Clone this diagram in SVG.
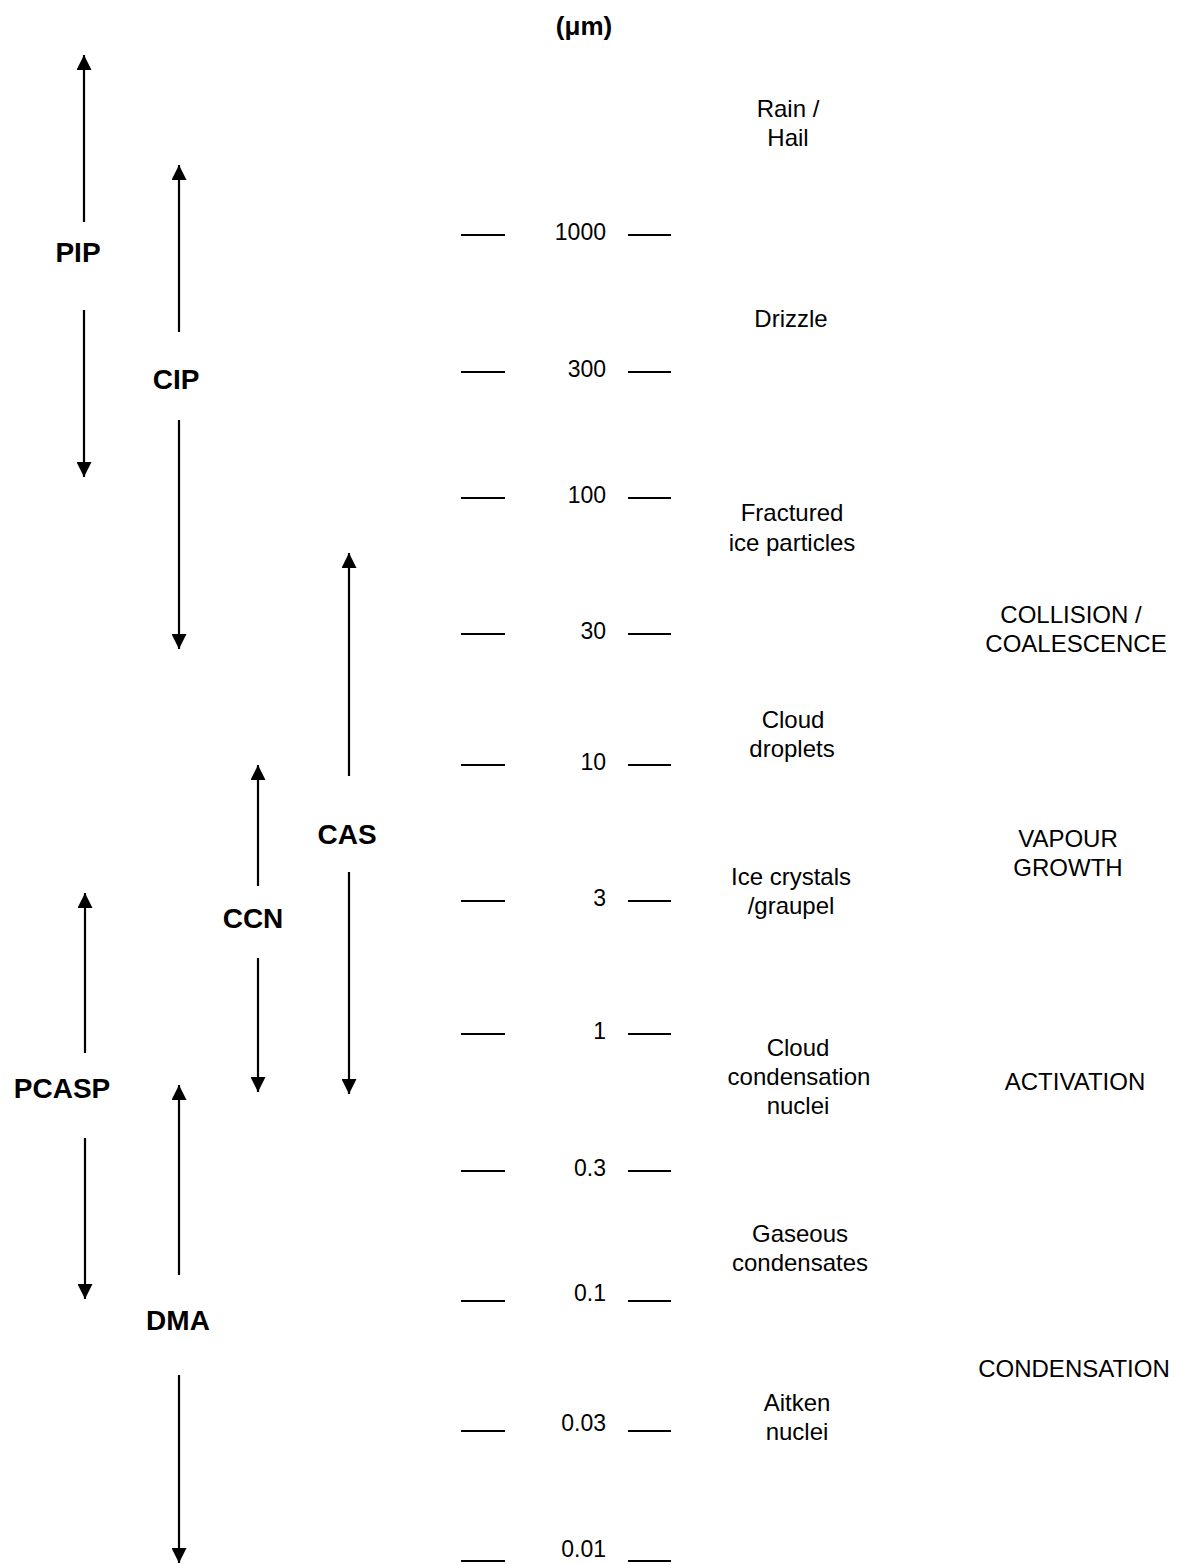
<svg xmlns="http://www.w3.org/2000/svg" width="1179" height="1564" viewBox="0 0 1179 1564">
<style>
.bg{fill:#fff}
.ax line{stroke:#000;stroke-width:2}
.arr line{stroke:#000;stroke-width:2.2;marker-end:url(#ah)}
.inst{font-family:"Liberation Sans",Arial,sans-serif;font-weight:bold;font-size:28px;text-anchor:middle;fill:#000}
.num{font-family:"Liberation Sans",Arial,sans-serif;font-size:23px;text-anchor:end;fill:#000}
.lab{font-family:"Liberation Sans",Arial,sans-serif;font-size:24px;text-anchor:middle;fill:#000}
.unit{font-family:"Liberation Sans",Arial,sans-serif;font-size:26px;font-weight:bold;text-anchor:middle;fill:#000}
</style>
<defs>
<marker id="ah" markerUnits="userSpaceOnUse" markerWidth="15" markerHeight="15" refX="15" refY="7.5" orient="auto" viewBox="0 0 15 15">
<path d="M0,0 L15,7.5 L0,15 z" fill="#000"/>
</marker>
</defs>
<rect class="bg" x="0" y="0" width="1179" height="1564"/>
<text class="unit" x="584" y="35">(μm)</text>
<g id="scale" class="ax">
<line x1="461" y1="235" x2="505" y2="235"/><line x1="628" y1="235" x2="671" y2="235"/>
<line x1="461" y1="372" x2="505" y2="372"/><line x1="628" y1="372" x2="671" y2="372"/>
<line x1="461" y1="498" x2="505" y2="498"/><line x1="628" y1="498" x2="671" y2="498"/>
<line x1="461" y1="634" x2="505" y2="634"/><line x1="628" y1="634" x2="671" y2="634"/>
<line x1="461" y1="765" x2="505" y2="765"/><line x1="628" y1="765" x2="671" y2="765"/>
<line x1="461" y1="901" x2="505" y2="901"/><line x1="628" y1="901" x2="671" y2="901"/>
<line x1="461" y1="1034" x2="505" y2="1034"/><line x1="628" y1="1034" x2="671" y2="1034"/>
<line x1="461" y1="1171" x2="505" y2="1171"/><line x1="628" y1="1171" x2="671" y2="1171"/>
<line x1="461" y1="1301" x2="505" y2="1301"/><line x1="628" y1="1301" x2="671" y2="1301"/>
<line x1="461" y1="1431" x2="505" y2="1431"/><line x1="628" y1="1431" x2="671" y2="1431"/>
<line x1="461" y1="1561" x2="505" y2="1561"/><line x1="628" y1="1561" x2="671" y2="1561"/>
<text class="num" x="606" y="240">1000</text>
<text class="num" x="606" y="377">300</text>
<text class="num" x="606" y="503">100</text>
<text class="num" x="606" y="639">30</text>
<text class="num" x="606" y="770">10</text>
<text class="num" x="606" y="906">3</text>
<text class="num" x="606" y="1039">1</text>
<text class="num" x="606" y="1176">0.3</text>
<text class="num" x="606" y="1301">0.1</text>
<text class="num" x="606" y="1431">0.03</text>
<text class="num" x="606" y="1557">0.01</text>
</g>
<g id="connectors" class="arr">
<line x1="84" y1="222" x2="84" y2="55"/><line x1="84" y1="310" x2="84" y2="477"/>
<line x1="179" y1="332" x2="179" y2="165"/><line x1="179" y1="420" x2="179" y2="649"/>
<line x1="349" y1="776" x2="349" y2="553"/><line x1="349" y1="872" x2="349" y2="1094"/>
<line x1="258" y1="886" x2="258" y2="765"/><line x1="258" y1="958" x2="258" y2="1092"/>
<line x1="85" y1="1053" x2="85" y2="893"/><line x1="85" y1="1138" x2="85" y2="1299"/>
<line x1="179" y1="1275" x2="179" y2="1085"/><line x1="179" y1="1375" x2="179" y2="1563"/>
</g>
<g id="PIP"><text class="inst" x="78" y="262">PIP</text></g>
<g id="CIP"><text class="inst" x="176" y="389">CIP</text></g>
<g id="CAS"><text class="inst" x="347" y="844">CAS</text></g>
<g id="CCN"><text class="inst" x="253" y="928">CCN</text></g>
<g id="PCASP"><text class="inst" x="62" y="1098">PCASP</text></g>
<g id="DMA"><text class="inst" x="178" y="1330">DMA</text></g>
<g id="particles">
<text class="lab" x="788" y="117">Rain /</text><text class="lab" x="788" y="146">Hail</text>
<text class="lab" x="791" y="327">Drizzle</text>
<text class="lab" x="792" y="521">Fractured</text><text class="lab" x="792" y="551">ice particles</text>
<text class="lab" x="793" y="728">Cloud</text><text class="lab" x="792" y="757">droplets</text>
<text class="lab" x="791" y="885">Ice crystals</text><text class="lab" x="791" y="914">/graupel</text>
<text class="lab" x="798" y="1056">Cloud</text><text class="lab" x="799" y="1085">condensation</text><text class="lab" x="798" y="1114">nuclei</text>
<text class="lab" x="800" y="1242">Gaseous</text><text class="lab" x="800" y="1271">condensates</text>
<text class="lab" x="797" y="1411">Aitken</text><text class="lab" x="797" y="1440">nuclei</text>
</g>
<g id="processes">
<text class="lab" x="1071" y="623">COLLISION /</text><text class="lab" x="1076" y="652">COALESCENCE</text>
<text class="lab" x="1068" y="847">VAPOUR</text><text class="lab" x="1068" y="876">GROWTH</text>
<text class="lab" x="1075" y="1090">ACTIVATION</text>
<text class="lab" x="1074" y="1377">CONDENSATION</text>
</g>
</svg>
